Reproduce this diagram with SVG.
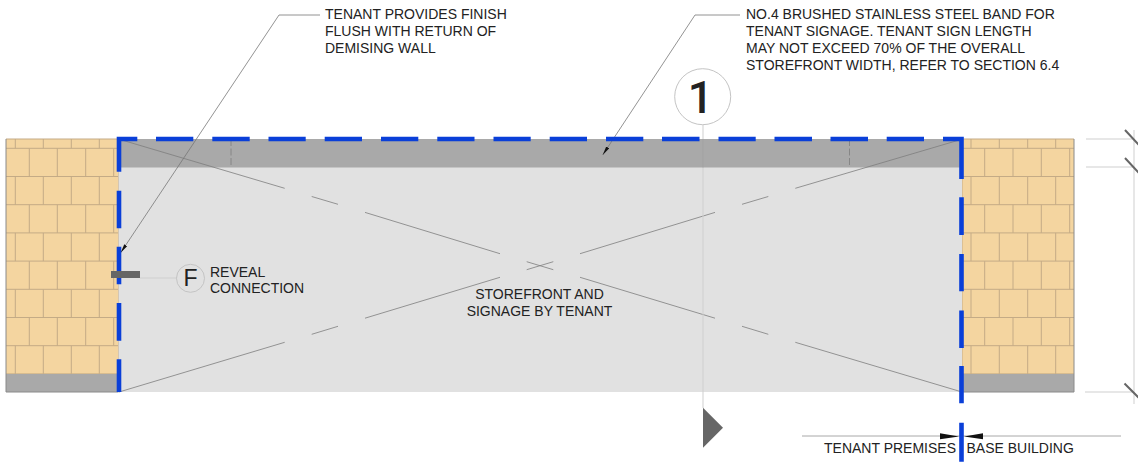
<svg xmlns="http://www.w3.org/2000/svg" width="1138" height="462" viewBox="0 0 1138 462">
<style>
text{font-family:"Liberation Sans",Arial,sans-serif;font-size:14px;fill:#222}
.wall{fill:#f4d5a0}
.brick{fill:none;stroke:#c4ab86;stroke-width:1}
.grey{fill:#a9a9a9}
.edge{fill:none;stroke:#8a8a8a;stroke-width:1}
.blue{fill:none;stroke:#0a3fd8;stroke-width:4.6}
.thin{fill:none;stroke:#7d7d7d;stroke-width:.8}
.faint{fill:none;stroke:#cfcfcf;stroke-width:1}
.lead{fill:none;stroke:#777;stroke-width:.8}
.bubble{fill:none;stroke:#c4c4c4;stroke-width:1}
</style>
<defs>
<marker id="tip" markerUnits="userSpaceOnUse" markerWidth="10" markerHeight="6" refX="9" refY="2.5" orient="auto"><path d="M0 0.8L9 2.5L0 4.2z" fill="#111"/></marker>
</defs>
<g id="left-wall">
<rect class="wall" x="6" y="139" width="112.5" height="253"/>
<path class="brick" d="M6 139H118.500M6 148.300H118.500M6 176.500H118.500M6 204.700H118.500M6 232.900H118.500M6 261.100H118.500M6 289.300H118.500M6 317.500H118.500M6 345.700H118.500M6 373.900H118.500M118.500 139V374
M15.300 139V148.300M43.300 139V148.300M71.300 139V148.300M99.300 139V148.300
M29.300 148.300V176.500M57.300 148.300V176.500M85.700 148.300V176.500M113.700 148.300V176.500
M15.300 176.500V204.700M43.300 176.500V204.700M71.300 176.500V204.700M99.300 176.500V204.700
M29.300 204.700V232.900M57.300 204.700V232.900M85.700 204.700V232.900M113.700 204.700V232.900
M15.300 232.900V261.100M43.300 232.900V261.100M71.300 232.900V261.100M99.300 232.900V261.100
M29.300 261.100V289.300M57.300 261.100V289.300M85.700 261.100V289.300M113.700 261.100V289.300
M15.300 289.300V317.500M43.300 289.300V317.500M71.300 289.300V317.500M99.300 289.300V317.500
M29.300 317.500V345.700M57.300 317.500V345.700M85.700 317.500V345.700M113.700 317.500V345.700
M15.300 345.700V373.900M43.300 345.700V373.900M71.300 345.700V373.900M99.300 345.700V373.900"/>
<rect class="grey" x="6" y="374" width="112.500" height="18"/>
<path class="edge" d="M118.500 392H6V139"/>
</g>
<g id="right-wall">
<rect class="wall" x="962" y="139" width="112" height="253"/>
<path class="brick" d="M962 139H1074M962 148.300H1074M962 176.500H1074M962 204.700H1074M962 232.900H1074M962 261.100H1074M962 289.300H1074M962 317.500H1074M962 345.700H1074M962 373.900H1074M962 139V374
M971 139V148.300M999.300 139V148.300M1027.700 139V148.300M1055.700 139V148.300
M984.700 148.300V176.500M1013 148.300V176.500M1041.300 148.300V176.500M1069.700 148.300V176.500
M971 176.500V204.700M999.300 176.500V204.700M1027.700 176.500V204.700M1055.700 176.500V204.700
M984.700 204.700V232.900M1013 204.700V232.900M1041.300 204.700V232.900M1069.700 204.700V232.900
M971 232.900V261.100M999.300 232.900V261.100M1027.700 232.900V261.100M1055.700 232.900V261.100
M984.700 261.100V289.300M1013 261.100V289.300M1041.300 261.100V289.300M1069.700 261.100V289.300
M971 289.300V317.500M999.300 289.300V317.500M1027.700 289.300V317.500M1055.700 289.300V317.500
M984.700 317.500V345.700M1013 317.500V345.700M1041.300 317.500V345.700M1069.700 317.500V345.700
M971 345.700V373.900M999.300 345.700V373.900M1027.700 345.700V373.900M1055.700 345.700V373.900"/>
<rect class="grey" x="962" y="374" width="112" height="18"/>
<path class="edge" d="M962 392H1074V139"/>
</g>
<g id="storefront">
<rect x="118.500" y="167" width="843.500" height="225" fill="#e1e1e1"/>
</g>
<g id="signage-band">
<rect class="grey" x="118.500" y="139" width="843.500" height="28.500"/>
<path d="M231 139V167.500M849.500 139V167.500" fill="none" stroke="#868686" stroke-width="1" stroke-dasharray="7 2.500"/>
</g>
<g id="connectors">
<path class="thin" d="M119 139.200L284.700 188.300M311.700 196.500L338 204.300M365 212.400L500 253.700M526.700 261.700L553.300 269.700M580 277.300L715 318.200M742 326.300L768.300 334.300M795.300 342.300L962 392"/>
<path class="thin" d="M962 139.200L795.300 188.300M768.300 196.500L742 204.300M715 212.400L580 253.700M553.300 261.700L526.700 269.700M500 277.300L365 318.200M338 326.300L311.700 334.300M284.700 342.300L119 392"/>
<path class="faint" d="M703 125V408"/>
<path d="M703 139V167.500" fill="none" stroke="#8f8f8f" stroke-width="1"/>
<path class="faint" d="M140 278H177"/>
<path class="lead" marker-end="url(#tip)" d="M320 15H279L120.700 252.700"/>
<path class="lead" marker-end="url(#tip)" d="M740 15H695L602.700 155"/>
<path d="M802 436H1121" fill="none" stroke="#a8a8a8" stroke-width="1"/>
<path class="faint" d="M1086 139H1133M1086 167H1133M1085 392H1133M1134 130V404"/>
<path d="M1125 130L1139 145M1125 158L1139 173M1124.500 383.500L1139 398" fill="none" stroke="#666" stroke-width="2"/>
</g>
<g id="premises-boundary">
<path class="blue" d="M119 171.700V139H137.300M156 139H193.300M212.300 139H249.700M268.500 139H305.700M324.700 139H362M381 139H418.300M437.300 139H474.500M493.500 139H530.700M549.700 139H587M606 139H643.300M662 139H699.500M718.500 139H755.700M774.500 139H812M830.500 139H868M886.700 139H924M943 139H961.500V179"/>
<path class="blue" d="M119 190.700V228.300M119 246.700V284.300M119 303V340.700M119 359.300V392"/>
<path class="blue" d="M961.500 197.300V235M961.500 254V291.300M961.500 310.500V348M961.500 366V403.300M961.500 422.700V461.700"/>
</g>
<g id="reveal-connection">
<rect x="111" y="271" width="29" height="7" fill="#666"/>
<circle class="bubble" cx="190.500" cy="278.300" r="14"/>
<text x="190.500" y="285.800" text-anchor="middle" style="font-size:23px">F</text>
<text x="210" y="276.500">REVEAL</text>
<text x="210" y="292.700">CONNECTION</text>
</g>
<g id="section-marker">
<circle class="bubble" cx="702.700" cy="96.700" r="28"/>
<text x="700.500" y="113" text-anchor="middle" style="font-family:Roboto,sans-serif;font-size:45px;font-weight:500">1</text>
<path d="M703 407.700L723 427.700L703 447.700z" fill="#666"/>
</g>
<g id="note-finish">
<text x="325" y="19">TENANT PROVIDES FINISH</text>
<text x="325" y="36">FLUSH WITH RETURN OF</text>
<text x="325" y="53">DEMISING WALL</text>
</g>
<g id="note-band">
<text x="746" y="19">NO.4 BRUSHED STAINLESS STEEL BAND FOR</text>
<text x="746" y="36">TENANT SIGNAGE. TENANT SIGN LENGTH</text>
<text x="746" y="53">MAY NOT EXCEED 70% OF THE OVERALL</text>
<text x="746" y="70">STOREFRONT WIDTH, REFER TO SECTION 6.4</text>
</g>
<g id="storefront-label">
<text x="539.500" y="298.500" text-anchor="middle">STOREFRONT AND</text>
<text x="539.500" y="315.500" text-anchor="middle">SIGNAGE BY TENANT</text>
</g>
<g id="boundary-labels">
<path d="M940 433.300L959 436.500L940 439.300z" fill="#111"/>
<path d="M983 433.300L964 436.500L983 439.300z" fill="#111"/>
<text x="824" y="453">TENANT PREMISES</text>
<text x="966.500" y="453">BASE BUILDING</text>
</g>
</svg>
